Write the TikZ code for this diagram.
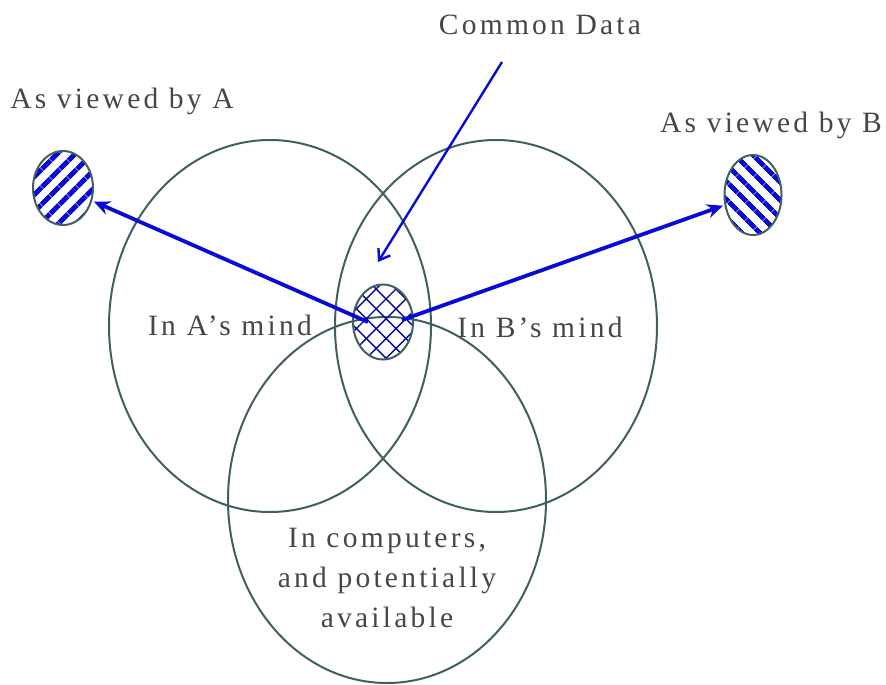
\documentclass[tikz,border=0pt]{standalone}
\usepackage{fontspec}
\setmainfont{Liberation Serif}
\usetikzlibrary{shapes.geometric,patterns.meta,arrows.meta}
\definecolor{ring}{RGB}{64,96,96}
\definecolor{arrblue}{RGB}{10,10,215}
\definecolor{txt}{RGB}{70,70,70}
\tikzset{
  bigring/.style={draw=ring,line width=2pt},
  smallring/.style={ellipse,draw=ring,line width=2pt,inner sep=0pt},
  lbl/.style={text=txt,font=\fontsize{29.5}{40}\selectfont\addfontfeature{LetterSpace=11},inner sep=0pt},
  viewarrow/.style={draw=arrblue,line width=3.8pt,-{Stealth[length=16pt,width=14pt]}},
  cdarrow/.style={draw=arrblue,line width=2.4pt,-{Straight Barb[length=10pt,width=14pt]}}
}
\begin{document}
\begin{tikzpicture}[x=1pt,y=-1pt]
\useasboundingbox (0,0) rectangle (886,685);
% big circles
\draw[bigring] (270,326) ellipse [x radius=161, y radius=186];
\draw[bigring] (496,326) ellipse [x radius=161, y radius=186];
\draw[bigring] (387,500) ellipse [x radius=159, y radius=183];
% small ellipses
\node[smallring,minimum width=60pt,minimum height=74pt,
  pattern={Lines[angle=45,distance=13pt,line width=5.5pt]},pattern color=arrblue] (viewA) at (63,188) {};
\node[smallring,minimum width=57pt,minimum height=80pt,
  pattern={Lines[angle=-45,distance=13pt,line width=5pt]},pattern color=arrblue] (viewB) at (753,195) {};
\node[smallring,minimum width=60pt,minimum height=75pt,
  pattern={Hatch[angle=45,distance=14pt,line width=1.4pt]},pattern color=arrblue!70!black] (common) at (383,322) {};
% coordinates
\coordinate (startA) at (368,322);
\coordinate (startB) at (402,320);
\coordinate (cdtail) at (502,62);
\coordinate (cdtip) at (378,262);
% arrows
\draw[viewarrow] (startA) -- (viewA);
\draw[viewarrow] (startB) -- (viewB);
\draw[cdarrow] (cdtail) -- (cdtip);
% labels
\node[lbl] (tcommon) at (540,25) {Common Data};
\node[lbl] (tviewA) at (122,101) {As viewed by A};
\node[lbl] (tviewB) at (771,125) {As viewed by B};
\node[lbl] (tmindA) at (230,325) {In A's mind};
\node[lbl] (tmindB) at (540,327) {In B's mind};
\node[lbl,align=center] (tcomp) at (387,578) {In computers,\\and potentially\\available};
\end{tikzpicture}
\end{document}
